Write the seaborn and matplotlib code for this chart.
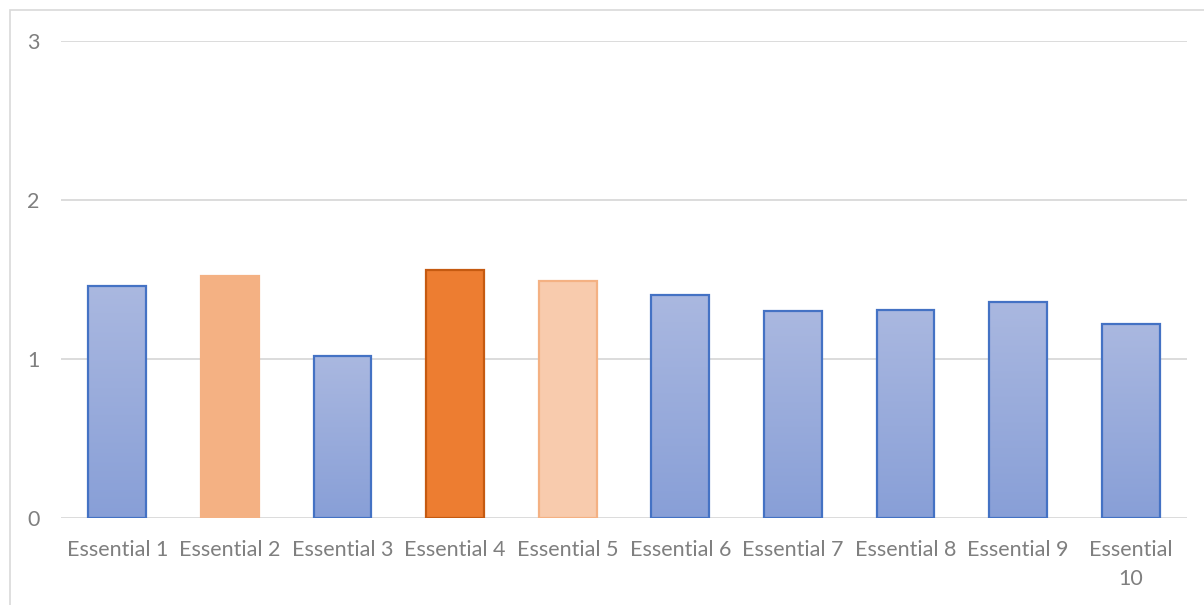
import numpy as np
import pandas as pd
import matplotlib
matplotlib.use("Agg")
import matplotlib.pyplot as plt
import seaborn as sns
from matplotlib.colors import LinearSegmentedColormap

categories = ["Essential 1", "Essential 2", "Essential 3", "Essential 4", "Essential 5",
              "Essential 6", "Essential 7", "Essential 8", "Essential 9", "Essential\n10"]
values = [1.46, 1.52, 1.02, 1.56, 1.49, 1.40, 1.30, 1.31, 1.36, 1.22]
fill_colors = ["grad", "#F4B183", "grad", "#ED7D31", "#F8CBAD",
               "grad", "grad", "grad", "grad", "grad"]
edge_colors = ["#4472C4", "#F4B183", "#4472C4", "#C55A11", "#F4B183",
               "#4472C4", "#4472C4", "#4472C4", "#4472C4", "#4472C4"]
yticks = [0, 1, 2, 3]

sns.set_theme(style="white")
plt.rcParams['font.family'] = ['Lato', 'DejaVu Sans']

fig = plt.figure(figsize=(12.04, 6.05), dpi=100)
ax = fig.add_axes([61/1204, 1 - 518/605, (1187-61)/1204, (518-41)/605])

df = pd.DataFrame({"cat": categories, "val": values})
sns.barplot(data=df, x="cat", y="val", ax=ax, width=0.515, color="#8AA2D8",
            linewidth=1.6, saturation=1, zorder=3)

grad_cmap = LinearSegmentedColormap.from_list("g", ["#889FD7", "#AAB8E0"])
for patch, fc, ec in zip(ax.patches, fill_colors, edge_colors):
    patch.set_edgecolor(ec)
    if fc == "grad":
        x0 = patch.get_x()
        w, h = patch.get_width(), patch.get_height()
        patch.set_facecolor("none")
        grad = np.linspace(0, 1, 256).reshape(-1, 1)
        im = ax.imshow(grad, cmap=grad_cmap, origin="lower", aspect="auto",
                       extent=(x0, x0 + w, 0, h), zorder=2.5, interpolation="bilinear")
        im.set_clip_path(patch)
    else:
        patch.set_facecolor(fc)

ax.set_xlim(-0.5, len(categories) - 0.5)
ax.set_ylim(0, 3)
ax.set_yticks(yticks)
ax.set_yticklabels([str(t) for t in yticks])
ax.yaxis.grid(True, color="#D9D9D9", linewidth=1.3, zorder=0)
ax.set_axisbelow(True)
for s in ax.spines.values():
    s.set_visible(False)
ax.set_xlabel("")
ax.set_ylabel("")
ax.tick_params(axis="x", length=0, pad=16, labelsize=15.5, labelcolor="#7F7F7F")
ax.tick_params(axis="y", length=0, pad=20, labelsize=15.5, labelcolor="#7F7F7F")
for lbl in ax.get_yticklabels():
    lbl.set_horizontalalignment("center")
for lbl in ax.get_xticklabels():
    lbl.set_verticalalignment("top")
    lbl.set_linespacing(1.55)

# chart border
fig.add_artist(plt.Rectangle((10/1204, -0.1), 1.2, 1 - 10/605 + 0.1, transform=fig.transFigure,
                             fill=False, edgecolor="#D9D9D9", linewidth=1.2))

fig.savefig("out.png", dpi=100)
